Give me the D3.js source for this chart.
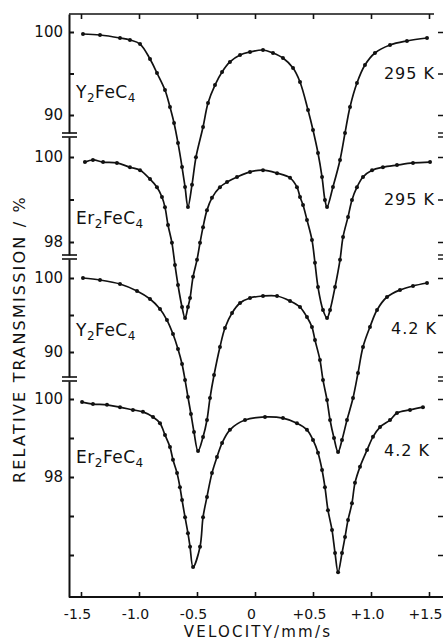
<!DOCTYPE html>
<html>
<head>
<meta charset="utf-8">
<script src="https://cdn.jsdelivr.net/npm/d3@7"></script>
<style>
body { margin: 0; background: #fff; }
svg text { font-family: "DejaVu Sans", sans-serif; fill: #111; }
</style>
</head>
<body>
<svg id="chart" width="443" height="644"></svg>
<script>
// velocity (mm/s), relative transmission (%)
const y2fe295 = [[-1.483,99.76],[-1.336,99.64],[-1.164,99.28],[-1.078,99.04],[-0.991,98.55],[-0.905,96.75],[-0.845,95.06],[-0.776,93.01],[-0.733,90.96],[-0.698,89.04],[-0.664,86.63],[-0.629,83.73],[-0.603,81.33],[-0.578,78.92],[-0.543,81.6],[-0.509,84.9],[-0.448,88.55],[-0.405,91.45],[-0.345,93.61],[-0.284,95.18],[-0.216,96.39],[-0.129,97.23],[-0.043,97.59],[0.069,97.83],[0.155,97.47],[0.241,96.87],[0.328,95.66],[0.388,93.98],[0.457,90.6],[0.5,88.19],[0.543,85.42],[0.578,82.53],[0.603,79.76],[0.621,78.92],[0.672,81.33],[0.733,84.58],[0.776,87.83],[0.819,90.96],[0.879,93.86],[0.948,96.02],[1.034,97.47],[1.164,98.43],[1.31,98.92],[1.483,99.28]];
const er2fe295 = [[-1.466,99.88],[-1.397,99.93],[-1.31,99.88],[-1.19,99.86],[-1.078,99.76],[-0.991,99.69],[-0.905,99.48],[-0.845,99.29],[-0.802,99.06],[-0.776,98.82],[-0.75,98.4],[-0.716,97.98],[-0.69,97.46],[-0.664,96.99],[-0.629,96.47],[-0.603,96.21],[-0.578,96.47],[-0.56,96.68],[-0.534,97.18],[-0.5,97.58],[-0.474,97.98],[-0.448,98.35],[-0.414,98.75],[-0.371,99.04],[-0.302,99.29],[-0.241,99.41],[-0.155,99.53],[-0.043,99.65],[0.069,99.69],[0.19,99.62],[0.302,99.51],[0.362,99.29],[0.388,99.06],[0.414,98.87],[0.448,98.52],[0.491,98.05],[0.517,97.51],[0.543,96.94],[0.586,96.4],[0.621,96.21],[0.647,96.4],[0.69,96.94],[0.733,97.58],[0.759,98.12],[0.802,98.59],[0.836,98.99],[0.879,99.29],[0.931,99.53],[1.009,99.69],[1.103,99.76],[1.224,99.81],[1.362,99.86],[1.509,99.88]];
const y2fe4 = [[-1.483,100.0],[-1.336,99.73],[-1.164,99.19],[-1.017,98.24],[-0.905,97.16],[-0.819,95.81],[-0.759,94.32],[-0.707,92.43],[-0.664,90.41],[-0.629,88.38],[-0.603,86.22],[-0.578,83.92],[-0.552,81.62],[-0.526,79.19],[-0.491,76.62],[-0.448,78.51],[-0.414,80.81],[-0.388,83.78],[-0.353,86.89],[-0.302,90.68],[-0.259,93.24],[-0.198,95.27],[-0.129,96.62],[-0.043,97.3],[0.069,97.57],[0.19,97.57],[0.302,96.89],[0.388,96.08],[0.448,94.73],[0.491,93.38],[0.517,91.62],[0.56,88.92],[0.586,86.22],[0.621,83.51],[0.647,80.81],[0.681,78.38],[0.716,76.49],[0.75,78.11],[0.793,80.81],[0.845,83.78],[0.888,87.16],[0.931,90.68],[0.991,93.38],[1.052,95.68],[1.138,97.43],[1.25,98.38],[1.362,98.92],[1.483,99.32]];
const er2fe4 = [[-1.491,99.92],[-1.397,99.87],[-1.276,99.85],[-1.164,99.79],[-1.052,99.72],[-0.966,99.67],[-0.879,99.54],[-0.819,99.38],[-0.776,99.08],[-0.733,98.77],[-0.707,98.44],[-0.672,98.1],[-0.647,97.74],[-0.629,97.41],[-0.603,96.97],[-0.578,96.56],[-0.56,96.21],[-0.534,95.69],[-0.474,96.21],[-0.448,96.97],[-0.414,97.49],[-0.371,98.1],[-0.328,98.51],[-0.284,98.87],[-0.216,99.21],[-0.086,99.46],[0.086,99.54],[0.241,99.51],[0.362,99.38],[0.448,99.21],[0.5,98.95],[0.543,98.62],[0.578,98.18],[0.603,97.74],[0.629,97.15],[0.664,96.64],[0.69,96.05],[0.716,95.56],[0.75,96.05],[0.776,96.46],[0.802,96.9],[0.836,97.33],[0.862,97.85],[0.905,98.26],[0.966,98.69],[1.017,99.03],[1.078,99.28],[1.164,99.46],[1.224,99.64],[1.336,99.72],[1.448,99.79]];

const compounds = ["Y2FeC4", "Er2FeC4", "Y2FeC4", "Er2FeC4"];
const temps = ["295 K", "295 K", "4.2 K", "4.2 K"];
const panelTicks = [[90, 95, 100], [98, 99, 100], [90, 95, 100], [96, 97, 98, 99, 100]];
const panelTickLabels = [[90, 100], [98, 100], [90, 100], [98, 100]];
const xTicks = [-1.5, -1, -0.5, 0, 0.5, 1, 1.5];
const xTickLabels = ["-1.5", "-1.0", "-0.5", "0", "+0.5", "+1.0", "+1.5"];

const series = [y2fe295, er2fe295, y2fe4, er2fe4];

// layout of each stacked panel: two reference values and their pixel rows
const layout = [
	{ ref: [90, 100], px: [115, 32],  top: 14,  bottom: 133, labelY: 98,  tempY: 79,  tempX: 435 },
	{ ref: [98, 100], px: [242, 157], top: 137, bottom: 255, labelY: 224, tempY: 205, tempX: 435 },
	{ ref: [90, 100], px: [352, 278], top: 259, bottom: 377, labelY: 336, tempY: 334, tempX: 437 },
	{ ref: [98, 100], px: [477, 399], top: 381, bottom: 597, labelY: 463, tempY: 456, tempX: 430 }
];

const axisX = 69, rightX = 443, topY = 14, baseY = 597;

const svg = d3.select("#chart");
const xScale = d3.scaleLinear().domain([-1.5, 1.5]).range([81, 429]);

// bottom axis
const xAxis = svg.append("g")
	.attr("transform", "translate(0," + baseY + ")")
	.call(d3.axisBottom(xScale).tickValues(xTicks)
		.tickFormat(function(d, i) { return xTickLabels[i]; })
		.tickSizeInner(-5).tickSizeOuter(0).tickPadding(12));
xAxis.select(".domain").attr("d", "M" + axisX + ",0H" + rightX);
xAxis.selectAll("text").attr("font-size", 14).attr("dx", -4);

// top frame line
const topAxis = svg.append("g")
	.attr("transform", "translate(0," + topY + ")")
	.call(d3.axisTop(xScale).tickValues(xTicks).tickSizeInner(-5).tickSizeOuter(0));
topAxis.selectAll("text").remove();
topAxis.select(".domain").attr("d", "M" + axisX + ",0H434");

svg.selectAll(".domain, .tick line").attr("stroke", "#111").attr("stroke-width", 1.6);
xAxis.selectAll(".domain").attr("stroke-width", 2);

const line = d3.line().curve(d3.curveCatmullRom.alpha(0.5));

layout.forEach(function(p, i) {
	const yScale = d3.scaleLinear().domain(p.ref).range(p.px);
	const segScale = d3.scaleLinear()
		.domain([yScale.invert(p.bottom), yScale.invert(p.top)])
		.range([p.bottom, p.top]);

	const left = svg.append("g")
		.attr("transform", "translate(" + axisX + ",0)")
		.call(d3.axisLeft(segScale).tickValues(panelTicks[i])
			.tickFormat(function(d) { return panelTickLabels[i].indexOf(d) >= 0 ? d : ""; })
			.tickSizeInner(-5).tickSizeOuter(0).tickPadding(6));
	left.selectAll("text").filter(function() { return this.textContent === ""; }).remove();
	left.selectAll("text").attr("font-size", 15);
	left.selectAll(".domain, .tick line").attr("stroke", "#111").attr("stroke-width", 2);

	const right = svg.append("g")
		.attr("transform", "translate(" + rightX + ",0)")
		.call(d3.axisLeft(segScale).tickValues(panelTicks[i]).tickSizeInner(5).tickSizeOuter(0));
	right.select(".domain").remove();
	right.selectAll("text").remove();
	right.selectAll(".tick line").attr("stroke", "#111").attr("stroke-width", 1.5);

	// axis break marks
	if (i > 0) {
		[layout[i - 1].bottom, p.top].forEach(function(yb) {
			svg.append("line").attr("x1", 62).attr("x2", 77).attr("y1", yb).attr("y2", yb)
				.attr("stroke", "#111").attr("stroke-width", 1.6);
			svg.append("line").attr("x1", 438).attr("x2", 443).attr("y1", yb).attr("y2", yb)
				.attr("stroke", "#111").attr("stroke-width", 1.4);
		});
	}

	const pts = series[i].map(function(d) { return [xScale(d[0]), yScale(d[1])]; });
	svg.append("path").attr("d", line(pts))
		.attr("fill", "none").attr("stroke", "#111").attr("stroke-width", 1.7);
	svg.append("g").selectAll("circle").data(pts).enter().append("circle")
		.attr("cx", function(d) { return d[0]; })
		.attr("cy", function(d) { return d[1]; })
		.attr("r", 2).attr("fill", "#111");

	// compound label with subscript digits
	const t = svg.append("text").attr("x", 76).attr("y", p.labelY)
		.attr("font-size", 17).attr("letter-spacing", 0.5);
	let shifted = false;
	compounds[i].split(/(\d)/).filter(function(s) { return s.length; }).forEach(function(s) {
		if (/\d/.test(s)) {
			t.append("tspan").attr("font-size", 12).attr("dy", 4).text(s);
			shifted = true;
		} else {
			t.append("tspan").attr("dy", shifted ? -4 : 0).text(s);
			shifted = false;
		}
	});

	svg.append("text").attr("x", p.tempX).attr("y", p.tempY)
		.attr("text-anchor", "end").attr("font-size", 16).attr("letter-spacing", 1)
		.text(temps[i]);
});

svg.append("text")
	.attr("transform", "translate(25,339) rotate(-90)")
	.attr("text-anchor", "middle").attr("font-size", 16).attr("letter-spacing", 2.2)
	.text("RELATIVE TRANSMISSION / %");

svg.append("text")
	.attr("x", 258).attr("y", 637)
	.attr("text-anchor", "middle").attr("font-size", 15).attr("letter-spacing", 2.2)
	.text("VELOCITY/mm/s");
</script>
</body>
</html>
